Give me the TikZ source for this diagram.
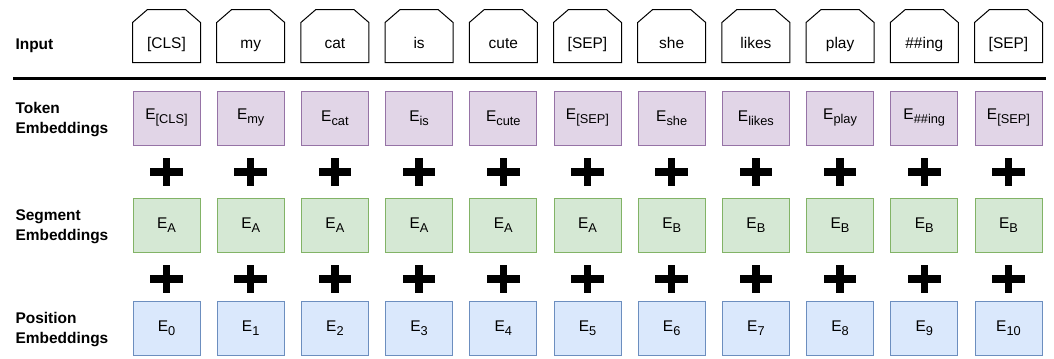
\documentclass[tikz,border=0pt]{standalone}
\usepackage{fontspec}
\setmainfont{Liberation Sans}
\usetikzlibrary{calc}

\definecolor{tokfill}{HTML}{E1D5E7}
\definecolor{tokdraw}{HTML}{9673A6}
\definecolor{segfill}{HTML}{D5E8D4}
\definecolor{segdraw}{HTML}{82B366}
\definecolor{posfill}{HTML}{DAE8FC}
\definecolor{posdraw}{HTML}{6C8EBF}

% lowered, smaller text after the E
\newcommand{\tsub}[1]{\raisebox{-3pt}{\fontsize{9.6}{10}\selectfont #1}}

\tikzset{every picture/.style={line width=0.75pt}}
\tikzset{
  rowlabel/.style={anchor=west, align=left, inner sep=0pt, font=\fontsize{11.6}{15}\selectfont\bfseries},
  inputbox/.style={rectangle, minimum width=50.25pt, minimum height=39pt, inner sep=0pt,
    text height=18pt, text depth=0pt, font=\fontsize{11.6}{14}\selectfont},
  embbox/.style={draw, rectangle, minimum width=50.25pt, minimum height=40.5pt, inner sep=0pt,
    font=\fontsize{11.6}{14}\selectfont},
  tokbox/.style={embbox, fill=tokfill, draw=tokdraw},
  segbox/.style={embbox, fill=segfill, draw=segdraw},
  posbox/.style={embbox, fill=posfill, draw=posdraw},
}

\begin{document}
\begin{tikzpicture}[x=0.75pt,y=0.75pt,yscale=-1,xscale=1]
\useasboundingbox (0,0) rectangle (1054,358);

% Row labels
\node[rowlabel] (lblinput) at (15,46) {Input};
\node[rowlabel] (lbltok) at (15,120) {Token\\Embeddings};
\node[rowlabel] (lblseg) at (15,227) {Segment\\Embeddings};
\node[rowlabel] (lblpos) at (15,330) {Position\\Embeddings};

%Straight Lines
\draw [line width=2.25pt] (13,78) -- (1046,78);

% Columns
\foreach \tok/\sub/\seg [count=\i from 0] in {[CLS]/[CLS]/A, my/my/A, cat/cat/A, is/is/A, cute/cute/A,
    [SEP]/[SEP]/A, she/she/B, likes/likes/B, play/play/B, \#\#ing/\#\#ing/B, [SEP]/[SEP]/B}{
  \pgfmathsetmacro{\cx}{166.5+84.2*\i}
  \node[inputbox] (in\i) at (\cx,36) {\tok};
  %Shape: Loop Limit
  \draw (in\i.south west) -- ($(in\i.north west)+(0,13)$) -- ($(in\i.north west)+(15,0)$)
    -- ($(in\i.north east)+(-15,0)$) -- ($(in\i.north east)+(0,13)$) -- (in\i.south east) -- cycle;
  \node[tokbox] (tok\i) at (\cx,118) {E\tsub{\sub}};
  \node[segbox] (seg\i) at (\cx,225) {E\tsub{\seg}};
  \node[posbox] (pos\i) at (\cx,328.5) {E\tsub{\i}};
  %Shape: Cross
  \fill (\cx-16.35,168.15) rectangle (\cx+16.35,175.85);
  \fill (\cx-3.7,158) rectangle (\cx+3.7,186);
  \fill (\cx-16.35,275.15) rectangle (\cx+16.35,282.85);
  \fill (\cx-3.7,265) rectangle (\cx+3.7,293);
}

\end{tikzpicture}
\end{document}
